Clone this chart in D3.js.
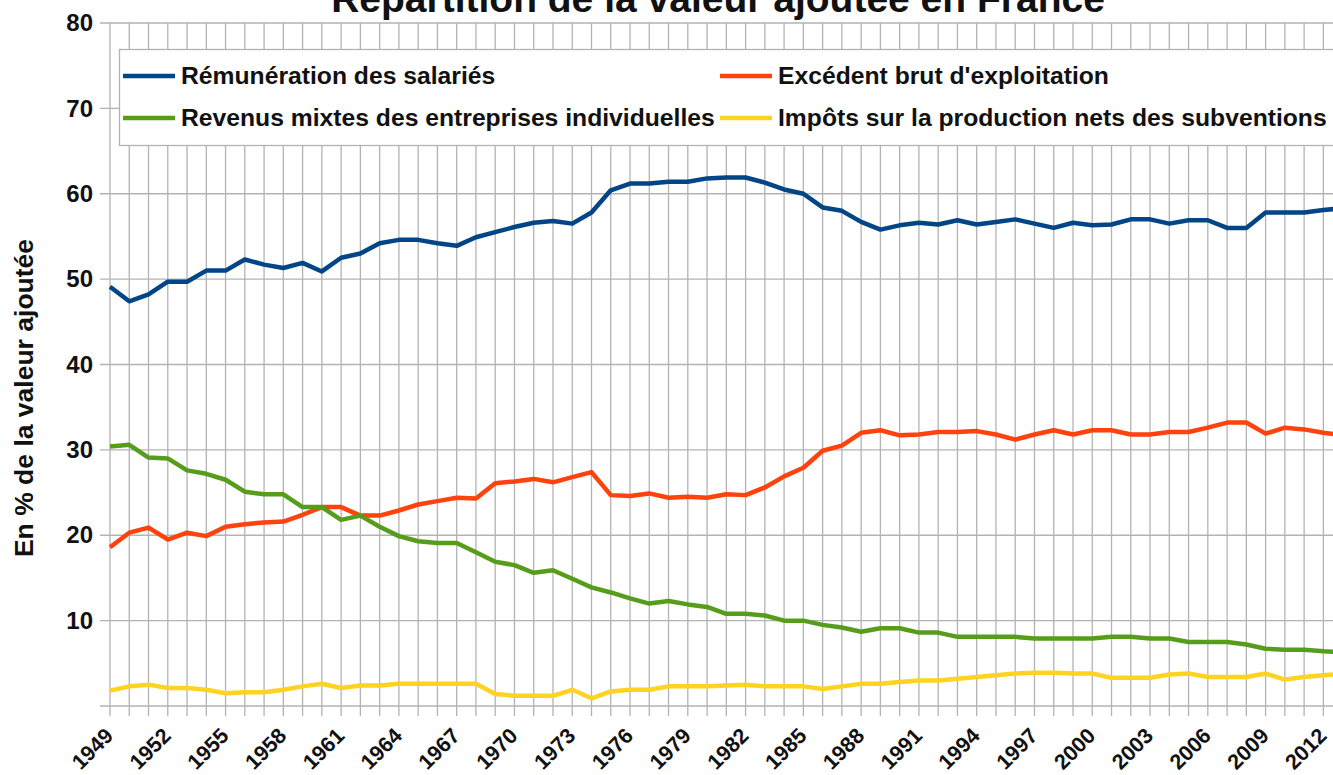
<!DOCTYPE html>
<html>
<head>
<meta charset="utf-8">
<script src="https://cdn.jsdelivr.net/npm/d3@7"></script>
<style>
    body { margin: 0; background: #fff; }
    text { font-family: "Liberation Sans", Arial, sans-serif; font-weight: bold; fill: #111; }
</style>
</head>
<body>
<div id="chart"></div>
<script>
// Années 1949 - 2013
const years = d3.range(1949, 2014);

const remuneration = [
    49.1, 47.4, 48.2, 49.7, 49.7, 51.0, 51.0, 52.3, 51.7, 51.3,
    51.9, 50.9, 52.5, 53.0, 54.2, 54.6, 54.6, 54.2, 53.9, 54.9,
    55.5, 56.1, 56.6, 56.8, 56.5, 57.8, 60.4, 61.2, 61.2, 61.4,
    61.4, 61.8, 61.9, 61.9, 61.3, 60.5, 60.0, 58.4, 58.0, 56.7,
    55.8, 56.3, 56.6, 56.4, 56.9, 56.4, 56.7, 57.0, 56.5, 56.0,
    56.6, 56.3, 56.4, 57.0, 57.0, 56.5, 56.9, 56.9, 56.0, 56.0,
    57.8, 57.8, 57.8, 58.1, 58.3
];

const excedent = [
    18.6, 20.3, 20.9, 19.5, 20.3, 19.9, 21.0, 21.3, 21.5, 21.6,
    22.4, 23.3, 23.3, 22.3, 22.3, 22.9, 23.6, 24.0, 24.4, 24.3,
    26.1, 26.3, 26.6, 26.2, 26.8, 27.4, 24.7, 24.6, 24.9, 24.4,
    24.5, 24.4, 24.8, 24.7, 25.6, 26.9, 27.9, 29.9, 30.5, 32.0,
    32.3, 31.7, 31.8, 32.1, 32.1, 32.2, 31.8, 31.2, 31.8, 32.3,
    31.8, 32.3, 32.3, 31.8, 31.8, 32.1, 32.1, 32.6, 33.2, 33.2,
    31.9, 32.6, 32.4, 32.0, 31.7
];

const mixtes = [
    30.4, 30.6, 29.1, 29.0, 27.6, 27.2, 26.5, 25.1, 24.8, 24.8,
    23.3, 23.3, 21.8, 22.3, 21.0, 19.9, 19.3, 19.1, 19.1, 18.0,
    16.9, 16.5, 15.6, 15.9, 14.9, 13.9, 13.3, 12.6, 12.0, 12.3,
    11.9, 11.6, 10.8, 10.8, 10.6, 10.0, 10.0, 9.5, 9.2, 8.7,
    9.1, 9.1, 8.6, 8.6, 8.1, 8.1, 8.1, 8.1, 7.9, 7.9,
    7.9, 7.9, 8.1, 8.1, 7.9, 7.9, 7.5, 7.5, 7.5, 7.2,
    6.7, 6.6, 6.6, 6.4, 6.3
];

const impots = [
    1.8, 2.3, 2.5, 2.1, 2.1, 1.9, 1.5, 1.6, 1.6, 1.9,
    2.3, 2.6, 2.1, 2.4, 2.4, 2.6, 2.6, 2.6, 2.6, 2.6,
    1.4, 1.2, 1.2, 1.2, 1.9, 0.9, 1.7, 1.9, 1.9, 2.3,
    2.3, 2.3, 2.4, 2.5, 2.3, 2.3, 2.3, 2.0, 2.3, 2.6,
    2.6, 2.8, 3.0, 3.0, 3.2, 3.4, 3.6, 3.8, 3.9, 3.9,
    3.8, 3.8, 3.3, 3.3, 3.3, 3.7, 3.8, 3.4, 3.4, 3.4,
    3.8, 3.1, 3.4, 3.6, 3.8
];

const seriesNames = [
    "Rémunération des salariés",
    "Excédent brut d'exploitation",
    "Revenus mixtes des entreprises individuelles",
    "Impôts sur la production nets des subventions"
];
const seriesColors = ["#004586", "#ff420e", "#579d1c", "#ffd320"];
const yTicks = [0, 10, 20, 30, 40, 50, 60, 70, 80];

const series = [remuneration, excedent, mixtes, impots];

const width = 1333, height = 775;
const plotLeft = 110, plotTop = 23, plotBottom = 706;

let svg = d3.select("#chart").append('svg')
    .attr('width', width)
    .attr('height', height);

let x = d3.scaleLinear()
    .domain([1949, 2013])
    .range([plotLeft, plotLeft + 64 * 19.26]);

let y = d3.scaleLinear()
    .domain([0, 80])
    .range([plotBottom, plotTop]);

// Quadrillage
svg.append('g')
    .selectAll('line')
    .data(years)
    .join('line')
    .attr('x1', d => x(d)).attr('x2', d => x(d))
    .attr('y1', y(80)).attr('y2', plotBottom + 10)
    .attr('stroke', '#b3b3b3')
    .attr('stroke-width', 1.3);

svg.append('g')
    .selectAll('line')
    .data(yTicks)
    .join('line')
    .attr('x1', plotLeft - 10).attr('x2', width)
    .attr('y1', d => y(d)).attr('y2', d => y(d))
    .attr('stroke', '#b3b3b3')
    .attr('stroke-width', 1.3);

// Axe Y
let yAxis = svg.append('g')
    .attr('transform', `translate(${plotLeft},0)`)
    .call(d3.axisLeft(y).tickValues(yTicks).tickSize(0).tickPadding(17)
        .tickFormat(d => d === 0 ? '' : d));
yAxis.select('.domain').remove();
yAxis.selectAll('text').style('font-size', '24px');

// Axe X, une étiquette tous les 3 ans
let xAxis = svg.append('g')
    .attr('transform', `translate(0,${plotBottom})`)
    .call(d3.axisBottom(x).tickValues(years.filter(d => (d - 1949) % 3 === 0))
        .tickSize(0).tickFormat(d3.format('d')));
xAxis.select('.domain').remove();
xAxis.selectAll('text')
    .style('font-size', '21.5px')
    .attr('text-anchor', 'end')
    .attr('dy', null)
    .attr('y', 0)
    .attr('transform', 'translate(4,31) rotate(-45)');

// Titre de l'axe Y
svg.append('text')
    .attr('transform', `translate(33,398) rotate(-90)`)
    .attr('text-anchor', 'middle')
    .style('font-size', '26.5px')
    .text('En % de la valeur ajoutée');

// Titre (coupé en haut)
svg.append('text')
    .attr('x', 718)
    .attr('y', 12)
    .attr('text-anchor', 'middle')
    .style('font-size', '39px')
    .text('Répartition de la valeur ajoutée en France');

// Courbes
let line = d3.line()
    .x((d, i) => x(years[i]))
    .y(d => y(d));

svg.append('g')
    .selectAll('path')
    .data(series)
    .join('path')
    .attr('d', d => line(d))
    .attr('fill', 'none')
    .attr('stroke', (d, i) => seriesColors[i])
    .attr('stroke-width', 4.5)
    .attr('stroke-linejoin', 'round');

// Légende
let legend = svg.append('g');
legend.append('rect')
    .attr('x', 119.5).attr('y', 49.5)
    .attr('width', 1240).attr('height', 96)
    .attr('fill', '#fff')
    .attr('stroke', '#b3b3b3')
    .attr('stroke-width', 1.3);

let legendPos = [[123, 76], [720, 76], [123, 118], [720, 118]];
seriesNames.forEach((name, i) => {
    let p = legendPos[i];
    legend.append('line')
        .attr('x1', p[0]).attr('x2', p[0] + 52)
        .attr('y1', p[1]).attr('y2', p[1])
        .attr('stroke', seriesColors[i])
        .attr('stroke-width', 4.5);
    legend.append('text')
        .attr('x', p[0] + 58)
        .attr('y', p[1] + 8)
        .style('font-size', '24.7px')
        .text(name);
});
</script>
</body>
</html>
